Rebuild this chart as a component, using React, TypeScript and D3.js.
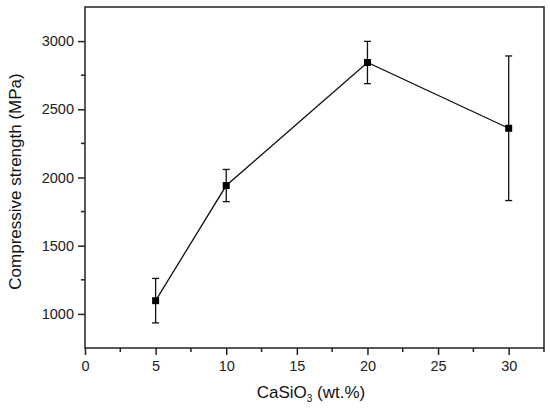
import { useEffect, useRef } from "react";
import * as d3 from "d3";

// CaSiO3 content (wt.%)
const contents = [5, 10, 20, 30];
// compressive strength (MPa)
const strengths = [1097, 1941, 2843, 2361];
// error bar half-widths (MPa)
const errors = [163, 118, 155, 530];
const xTicks = [0, 5, 10, 15, 20, 25, 30];
const yTicks = [1000, 1500, 2000, 2500, 3000];

function App() {
  const ref = useRef<SVGSVGElement>(null);

  useEffect(() => {
    if (!ref.current) return;
    const svg = d3.select(ref.current);
    svg.selectAll("*").remove();

    const width = 550;
    const height = 411;
    const margin = { top: 7, right: 6, bottom: 63, left: 85 };

    const x = d3
      .scaleLinear()
      .domain([0, 32.5])
      .range([margin.left, width - margin.right]);
    const y = d3
      .scaleLinear()
      .domain([750, 3250])
      .range([height - margin.bottom, margin.top]);

    const font = "Liberation Sans, Arial, sans-serif";

    // 坐标框
    svg
      .append("rect")
      .attr("x", x(0))
      .attr("y", y(3250))
      .attr("width", x(32.5) - x(0))
      .attr("height", y(750) - y(3250))
      .attr("fill", "none")
      .attr("stroke", "#222")
      .attr("stroke-width", 1.5);

    // x 轴
    const xAxis = svg
      .append("g")
      .attr("transform", `translate(0,${y(750)})`)
      .call(
        d3
          .axisBottom(x)
          .tickValues(xTicks)
          .tickSize(7)
          .tickPadding(6)
          .tickFormat(d3.format("d"))
      );
    xAxis.select(".domain").remove();
    xAxis.selectAll("line").attr("stroke", "#222").attr("stroke-width", 1.5);
    xAxis
      .selectAll("text")
      .attr("fill", "#222")
      .style("font-family", font)
      .style("font-size", "14.5px");

    // x 次刻度
    svg
      .append("g")
      .selectAll("line")
      .data(xTicks.map((d) => d + 2.5))
      .enter()
      .append("line")
      .attr("x1", (d) => x(d))
      .attr("x2", (d) => x(d))
      .attr("y1", y(750))
      .attr("y2", y(750) + 4)
      .attr("stroke", "#222")
      .attr("stroke-width", 1.5);

    // y 轴
    const yAxis = svg
      .append("g")
      .attr("transform", `translate(${x(0)},0)`)
      .call(
        d3
          .axisLeft(y)
          .tickValues(yTicks)
          .tickSize(7)
          .tickPadding(4)
          .tickFormat(d3.format("d"))
      );
    yAxis.select(".domain").remove();
    yAxis.selectAll("line").attr("stroke", "#222").attr("stroke-width", 1.5);
    yAxis
      .selectAll("text")
      .attr("fill", "#222")
      .style("font-family", font)
      .style("font-size", "14.5px");

    // y 次刻度
    svg
      .append("g")
      .selectAll("line")
      .data([1250, 1750, 2250, 2750])
      .enter()
      .append("line")
      .attr("x1", x(0))
      .attr("x2", x(0) - 4)
      .attr("y1", (d) => y(d))
      .attr("y2", (d) => y(d))
      .attr("stroke", "#222")
      .attr("stroke-width", 1.5);

    const points = contents.map((c, i) => ({
      x: c,
      y: strengths[i],
      e: errors[i],
    }));

    // 折线
    const line = d3
      .line<{ x: number; y: number }>()
      .x((d) => x(d.x))
      .y((d) => y(d.y));
    svg
      .append("path")
      .datum(points)
      .attr("d", line)
      .attr("fill", "none")
      .attr("stroke", "#111")
      .attr("stroke-width", 1.3);

    // 误差棒
    const eb = svg.append("g").attr("stroke", "#111").attr("stroke-width", 1.3);
    points.forEach((p) => {
      eb.append("line")
        .attr("x1", x(p.x))
        .attr("x2", x(p.x))
        .attr("y1", y(p.y - p.e))
        .attr("y2", y(p.y + p.e));
      [p.y - p.e, p.y + p.e].forEach((v) => {
        eb.append("line")
          .attr("x1", x(p.x) - 3.5)
          .attr("x2", x(p.x) + 3.5)
          .attr("y1", y(v))
          .attr("y2", y(v));
      });
    });

    // 方形标记
    svg
      .append("g")
      .selectAll("rect")
      .data(points)
      .enter()
      .append("rect")
      .attr("x", (d) => x(d.x) - 3.5)
      .attr("y", (d) => y(d.y) - 3.5)
      .attr("width", 7)
      .attr("height", 7)
      .attr("fill", "#000");

    // x 轴标题
    const xt = svg
      .append("text")
      .attr("x", 311)
      .attr("y", 398)
      .attr("text-anchor", "middle")
      .attr("fill", "#111")
      .style("font-family", font)
      .style("font-size", "17px");
    xt.append("tspan").text("CaSiO");
    xt.append("tspan").attr("dy", 4).style("font-size", "10px").text("3");
    xt.append("tspan").attr("dy", -4).text(" (wt.%)");

    // y 轴标题
    svg
      .append("text")
      .attr("transform", `translate(21,181.5) rotate(-90)`)
      .attr("text-anchor", "middle")
      .attr("fill", "#111")
      .style("font-family", font)
      .style("font-size", "17px")
      .text("Compressive strength (MPa)");
  }, []);

  return (
    <svg
      ref={ref}
      width={550}
      height={411}
      style={{ position: "absolute", left: 0, top: 0, background: "#fff" }}
    />
  );
}

export default App;
